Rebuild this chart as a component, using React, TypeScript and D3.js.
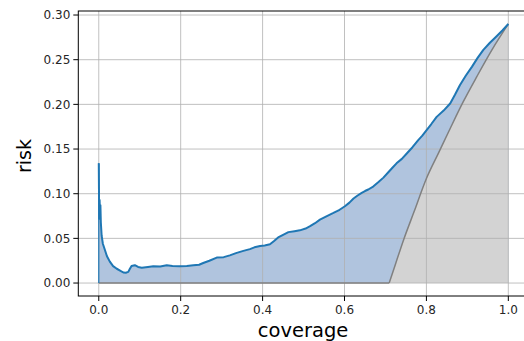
import * as d3 from 'd3';

// selective-risk curve
const coverage = [
  0, 0.001, 0.002, 0.003, 0.004, 0.005, 0.007, 0.01, 0.015, 0.02, 0.027, 0.035, 0.044, 0.052, 0.06,
  0.066, 0.072, 0.076, 0.08, 0.088, 0.096, 0.105, 0.12, 0.133, 0.15, 0.166, 0.18, 0.198, 0.215, 0.231,
  0.245, 0.255, 0.27, 0.288, 0.305, 0.32, 0.335, 0.353, 0.369, 0.38, 0.394, 0.405, 0.418, 0.428, 0.438,
  0.45, 0.463, 0.478, 0.491, 0.505, 0.516, 0.528, 0.54, 0.557, 0.573, 0.588, 0.601, 0.612, 0.622, 0.632,
  0.642, 0.65, 0.658, 0.67, 0.683, 0.695, 0.707, 0.717, 0.727, 0.74, 0.752, 0.766, 0.78, 0.79, 0.8,
  0.812, 0.825, 0.842, 0.858, 0.87, 0.882, 0.896, 0.911, 0.925, 0.939, 0.955, 0.972, 0.986, 1.0,
];
const risk = [
  0.134, 0.072, 0.093, 0.078, 0.087, 0.068, 0.053, 0.044, 0.037, 0.03, 0.024, 0.019, 0.016, 0.014, 0.0118,
  0.0115, 0.0125, 0.016, 0.019, 0.02, 0.018, 0.0172, 0.018, 0.0187, 0.0185, 0.0198, 0.0192, 0.0187, 0.019, 0.0198,
  0.0205, 0.0224, 0.025, 0.0285, 0.029, 0.031, 0.0335, 0.036, 0.038, 0.04, 0.0415, 0.042, 0.0434, 0.047, 0.051,
  0.054, 0.057, 0.058, 0.059, 0.061, 0.0636, 0.067, 0.071, 0.075, 0.0785, 0.082, 0.086, 0.09, 0.0946, 0.098,
  0.101, 0.103, 0.1047, 0.108, 0.113, 0.118, 0.124, 0.129, 0.134, 0.139, 0.145, 0.152, 0.16, 0.165, 0.171,
  0.178, 0.186, 0.193, 0.201, 0.211, 0.2216, 0.232, 0.242, 0.252, 0.261, 0.269, 0.2766, 0.283, 0.29,
];

// optimal (oracle) risk
const optCoverage = [0, 0.709, 0.725, 0.744, 0.77, 0.8, 0.83, 0.858, 0.89, 0.923, 0.96, 1.0];
const optRisk = [0, 0, 0.022, 0.048, 0.08, 0.117, 0.146, 0.173, 0.203, 0.231, 0.261, 0.29];

const xTicks = [0, 0.2, 0.4, 0.6, 0.8, 1.0];
const yTicks = [0, 0.05, 0.1, 0.15, 0.2, 0.25, 0.3];

const W = 524;
const H = 341;
const plot = { left: 78.3, right: 528.8, top: 11, bottom: 296 };
const font = '"DejaVu Sans", sans-serif';

export default function App() {
  const x = d3.scaleLinear().domain([-0.05, 1.05]).range([plot.left, plot.right]);
  const y = d3.scaleLinear().domain([-0.0145, 0.3045]).range([plot.bottom, plot.top]);

  const pts: [number, number][] = coverage.map((c, i) => [c, risk[i]]);
  const opt: [number, number][] = optCoverage.map((c, i) => [c, optRisk[i]]);
  const optFlat = opt.slice(0, 2);
  const optRise = opt.slice(1);

  const area = d3.area<[number, number]>()
    .x((d) => x(d[0]))
    .y0(y(0))
    .y1((d) => y(d[1]));
  const line = d3.line<[number, number]>()
    .x((d) => x(d[0]))
    .y((d) => y(d[1]));
  const optArea = d3.area<[number, number]>()
    .x((d) => x(d[0]))
    .y0(y(0))
    .y1((d) => y(d[1]))
    .curve(d3.curveMonotoneX);
  const optLine = d3.line<[number, number]>()
    .x((d) => x(d[0]))
    .y((d) => y(d[1]))
    .curve(d3.curveMonotoneX);

  return (
    <svg width={W} height={H} style={{ position: 'absolute', left: 0, top: 0 }} fontFamily={font}>
      <rect width={W} height={H} fill="#fff" />
      <defs>
        <clipPath id="plot">
          <rect x={plot.left} y={plot.top} width={plot.right - plot.left} height={plot.bottom - plot.top} />
        </clipPath>
      </defs>

      <g clipPath="url(#plot)">
        <path d={area(pts)!} fill="#b0c4de" />
        <path d={optArea(optRise)!} fill="#d3d3d3" />

        {/* grid */}
        {xTicks.map((t) => (
          <line key={'gx' + t} x1={x(t)} x2={x(t)} y1={plot.top} y2={plot.bottom}
            stroke="#b0b0b0" strokeOpacity={0.8} strokeWidth={1} />
        ))}
        {yTicks.map((t) => (
          <line key={'gy' + t} x1={plot.left} x2={plot.right} y1={y(t)} y2={y(t)}
            stroke="#b0b0b0" strokeOpacity={0.8} strokeWidth={1} />
        ))}

        <path d={line(optFlat)!} fill="none" stroke="#808080" strokeWidth={1.5} />
        <path d={optLine(optRise)!} fill="none" stroke="#808080" strokeWidth={1.5} />
        <line x1={x(0)} x2={x(0)} y1={y(0)} y2={y(risk[0])} stroke="#1f77b4" strokeWidth={1.2} />
        <path d={line(pts)!} fill="none" stroke="#1f77b4" strokeWidth={2} strokeLinejoin="round" />
      </g>

      {/* spines */}
      <rect x={plot.left} y={plot.top} width={plot.right - plot.left} height={plot.bottom - plot.top}
        fill="none" stroke="#000" strokeWidth={1} />

      {/* x axis */}
      {xTicks.map((t) => (
        <g key={'xt' + t}>
          <line x1={x(t)} x2={x(t)} y1={plot.bottom} y2={plot.bottom + 5} stroke="#000" />
          <text x={x(t)} y={plot.bottom + 18} textAnchor="middle" fontSize={12} fill="#262626">
            {t.toFixed(1)}
          </text>
        </g>
      ))}
      {/* y axis */}
      {yTicks.map((t) => (
        <g key={'yt' + t}>
          <line x1={plot.left - 5} x2={plot.left} y1={y(t)} y2={y(t)} stroke="#000" />
          <text x={plot.left - 8} y={y(t)} dy="0.35em" textAnchor="end" fontSize={12} fill="#262626">
            {t.toFixed(2)}
          </text>
        </g>
      ))}

      <text x={303} y={337} textAnchor="middle" fontSize={19.5} fill="#000">coverage</text>
      <text transform={`translate(31,156) rotate(-90)`} textAnchor="middle" fontSize={19} fill="#000">risk</text>
    </svg>
  );
}
